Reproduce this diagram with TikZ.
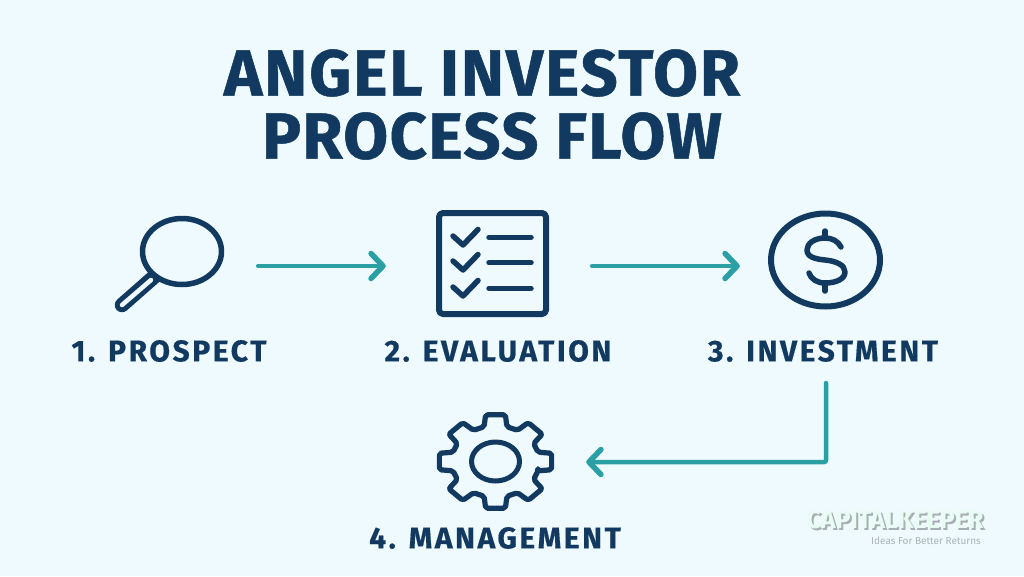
\documentclass[tikz,border=0pt]{standalone}
\usepackage{fontspec}
\setmainfont{Fira Sans}
\newfontfamily\markfont{Fira Sans}
\usetikzlibrary{arrows.meta}
\definecolor{paper}{RGB}{238,250,254}
\definecolor{navy}{RGB}{18,58,96}
\definecolor{teal}{RGB}{42,160,165}
\begin{document}
\begin{tikzpicture}
		[x=1pt,y=-1pt,
		title/.style={text=navy,font=\fontsize{65}{65}\selectfont\bfseries\addfontfeature{FakeBold=0.8,LetterSpace=#1},inner sep=0pt},
		label/.style={text=navy,font=\fontsize{30}{30}\selectfont\bfseries\addfontfeature{FakeBold=0.5,LetterSpace=8.5},inner sep=0pt},
		brand/.style={text=#1,font=\markfont\fontsize{25}{25}\selectfont\bfseries,inner sep=0pt},
		iconbox/.style={inner sep=0pt,minimum width=#1},
		icon/.style={draw=navy,line width=5.5pt,line cap=round,line join=round},
		flow/.style={draw=teal,line width=4.5pt,line cap=round,-{Straight Barb[length=12pt,width=25pt,line width=5.5pt,round]}}]
		\fill[paper] (0,0) rectangle (1024,576);
		\node[title=3,name=title1] at (482,73) {ANGEL INVESTOR};
		\node[title=2.2,name=title2] at (492,136) {PROCESS FLOW};
		% icon places
		\node[iconbox=166pt,name=prospect] at (175,266) {};
		\node[iconbox=206pt,name=evaluation] at (489,266) {};
		\node[iconbox=172pt,name=investment] at (826,266) {};
		\node[iconbox=182pt,name=management] at (495,462) {};
		% magnifier
		\draw[navy,line width=14.5pt,line cap=round] (122,305)--(155,276);
		\draw[paper,line width=4.5pt,line cap=round] (122,305)--(151,280);
		\draw[icon,fill=paper] (182,251.5) ellipse (39.5 and 33);
		% checklist
		\draw[icon,line width=6pt,rounded corners=4pt] (439,213) rectangle (546,314);
		\foreach \y/\z in {0/237.3,25/262.7,51/288.3} {
			\draw[icon] (453,236+\y)--(463,245+\y)--(478,229.5+\y);
			\draw[icon] (489,\z)--(531,\z);
		}
		% dollar
		\draw[icon,line width=6pt] (825.5,260) ellipse (54.5 and 46.5);
		\draw[icon] (841,247) .. controls (838,241) and (832,238) .. (825,238)
			.. controls (815,238) and (807,243) .. (807,250)
			.. controls (807,257) and (815,259) .. (825,260)
			.. controls (836,261) and (845,265) .. (845,272)
			.. controls (845,279) and (836,283) .. (825,283)
			.. controls (817,283) and (811,279) .. (809,273);
		\draw[icon] (825,231)--(825,238);
		\draw[icon] (825,283)--(825,291);
		% gear
		\begin{scope}[shift={(495.5,461.5)}]
			\draw[icon,line width=5.2pt,rounded corners=2pt] (-15:44pt and 36pt)
				\foreach \a in {0,45,...,315} {
					--(\a-15:44pt and 36pt)--(\a-10:57pt and 47.5pt)--(\a+10:57pt and 47.5pt)--(\a+15:44pt and 36pt)
				} --cycle;
			\draw[icon,line width=5pt] (0,0) ellipse (24 and 19.5);
		\end{scope}
		\node[label,name=step1] at (169,351) {1. PROSPECT};
		\node[label,name=step2] at (498,351) {2. EVALUATION};
		\node[label,name=step3] at (823,351) {3. INVESTMENT};
		\node[label,name=step4] at (495,538) {4. MANAGEMENT};
		\draw[flow] (prospect.east)--(evaluation.west);
		\draw[flow] (evaluation.east)--(investment.west);
		\draw[flow,rounded corners=2pt] ([xshift=3pt,yshift=-21pt]step3.south) |- (management.east);
		% watermark
		\node[brand=black!30!paper,name=shade] at (897,522) {CAPITALKEEPER};
		\node[brand=green!6!paper!70!white,name=mark] at (895,520) {CAPITALKEEPER};
		\node[text=black!28!paper,font=\markfont\fontsize{10}{10}\selectfont,inner sep=0pt,name=tagline] at (926,541) {Ideas For Better Returns};
	\end{tikzpicture}
\end{document}
